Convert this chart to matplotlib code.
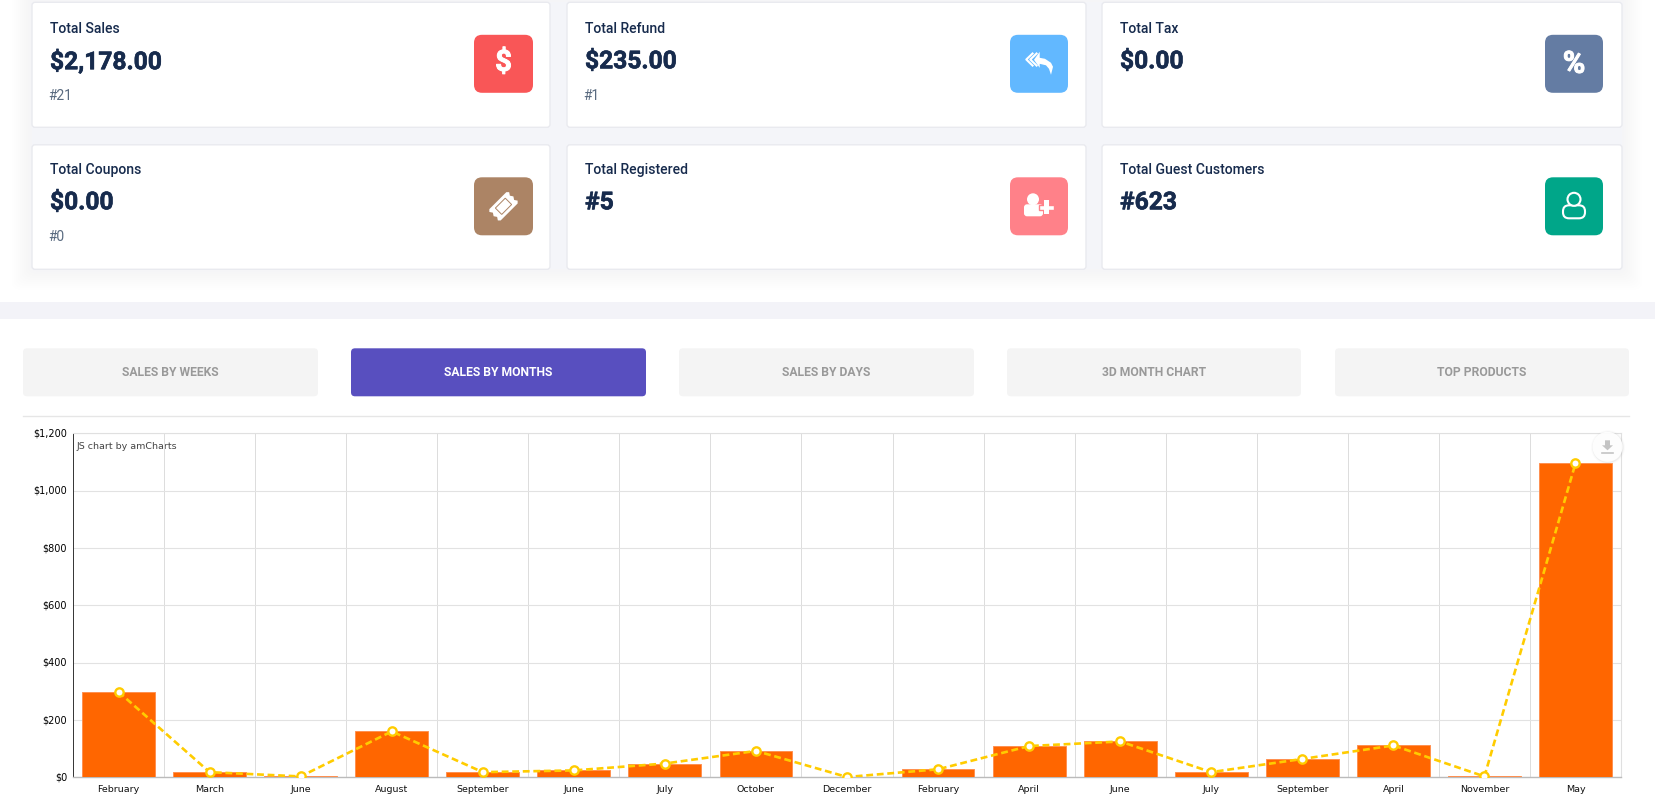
import numpy as np
import matplotlib
matplotlib.use("Agg")
import matplotlib.pyplot as plt
import matplotlib.patheffects as pe
from matplotlib.patches import FancyBboxPatch, Rectangle, Circle, Polygon
from matplotlib.transforms import ScaledTranslation

W, H = 1655, 812
SHIFT = 1.3

# chart data
months = ["February", "March", "June", "August", "September", "June", "July", "October", "December",
          "February", "April", "June", "July", "September", "April", "November", "May"]
bar_values = [298, 18, 3, 160, 18, 24, 48, 92, 1, 28, 109, 125, 18, 64, 111, 3, 1095]
line_values = [298, 18, 3, 160, 18, 24, 48, 92, 1, 28, 109, 125, 18, 64, 111, 3, 1095]
y_ticks = [0, 200, 400, 600, 800, 1000, 1200]
y_labels = ["$0", "$200", "$400", "$600", "$800", "$1,000", "$1,200"]

# dashboard cards
card_titles = ["Total Sales", "Total Refund", "Total Tax", "Total Coupons", "Total Registered", "Total Guest Customers"]
card_values = ["$2,178.00", "$235.00", "$0.00", "$0.00", "#5", "#623"]
card_subs = ["#21", "#1", "", "#0", "", ""]
card_colors = ["#f95657", "#62b8ff", "#647ca3", "#ac8465", "#ff8189", "#00a689"]
tab_names = ["SALES BY WEEKS", "SALES BY MONTHS", "SALES BY DAYS", "3D MONTH CHART", "TOP PRODUCTS"]

NAVY = "#172b4d"
plt.rcParams["font.family"] = ["Roboto", "DejaVu Sans"]

fig = plt.figure(figsize=(W / 100, H / 100), dpi=100, facecolor="white")

# whole page drawn in pixel coords
page = fig.add_axes([0, 0, 1, 1])
page.set_xlim(0, W)
page.set_ylim(H - SHIFT, -SHIFT)
page.axis("off")


def rbox(x0, y0, x1, y1, r, **kw):
    p = FancyBboxPatch((x0 + r, y0 + r), x1 - x0 - 2 * r, y1 - y0 - 2 * r,
                       boxstyle=f"round,pad={r},rounding_size={r}", **kw)
    page.add_patch(p)
    return p


# soft shadow behind the card block
for i in range(10):
    g = 20 - 2 * i
    rbox(32 - g, -30, 1622 + g, 269 + g, 8, fc="#f0f1f7", ec="none", alpha=0.06)
page.add_patch(Rectangle((32, 2), 1590, 267, fc="#f4f5f9", ec="none"))

# band between the cards and the tabs
page.add_patch(Rectangle((0, 302), W, 16.5, fc="#f3f3f8", ec="none"))

heavy = [pe.withStroke(linewidth=0.7, foreground="white")]
value_fx = [pe.withStroke(linewidth=0.45, foreground=NAVY)]


def icon_dollar(cx, cy):
    page.text(cx, cy - 1, "$", color="white", fontsize=21, fontweight="bold", ha="center", va="center",
              path_effects=heavy)


def icon_percent(cx, cy):
    page.text(cx, cy, "%", color="white", fontsize=22, fontweight="bold", ha="center", va="center",
              path_effects=heavy)


def icon_reply(cx, cy):
    for dx in (-12.7, -8.7):
        page.plot([cx + dx + 7, cx + dx, cx + dx + 7], [cy - 11, cy - 4.3, cy + 2.5], color="white", lw=1.5,
                  solid_capstyle="butt")
    head = [(cx - 5, cy - 4), (cx + 0.7, cy - 12), (cx + 0.7, cy - 6), (cx + 6, cy - 5), (cx + 12, cy - 1),
            (cx + 14, cy + 3), (cx + 12, cy + 11), (cx + 10, cy + 5), (cx + 7, cy + 1.5), (cx + 0.7, cy), (cx + 0.7, cy + 4)]
    page.add_patch(Polygon(head, fc="white", ec="none"))


def icon_ticket(cx, cy, color):
    t = np.radians(-45)
    rot = np.array([[np.cos(t), -np.sin(t)], [np.sin(t), np.cos(t)]])

    def tr(pts):
        return [tuple(rot @ np.array(p) + (cx, cy)) for p in pts]
    page.add_patch(Polygon(tr([(-14, -6), (-12, -8), (12, -8), (14, -6), (12, -3), (14, 0), (12, 3), (14, 6), (12, 8),
                               (-12, 8), (-14, 6), (-12, 3), (-14, 0), (-12, -3)]), fc="white", ec="none"))
    page.add_patch(Polygon(tr([(-7, -4.5), (7, -4.5), (7, 4.5), (-7, 4.5)]), fc="white", ec=color, lw=0.7))


def icon_user_plus(cx, cy, color):
    page.add_patch(Circle((cx - 6, cy - 7), 6, fc="white", ec="none"))
    rbox(cx - 15, cy - 2, cx + 4, cy + 10, 3, fc="white", ec="none")
    page.add_patch(Rectangle((cx + 5, cy - 6), 5, 14, fc="white", ec=color, lw=1))
    page.add_patch(Rectangle((cx, cy - 1.5), 15, 5, fc="white", ec=color, lw=1))
    page.add_patch(Rectangle((cx + 5, cy - 6), 5, 14, fc="white", ec="none"))


def icon_user(cx, cy):
    rbox(cx - 11, cy - 1, cx + 11, cy + 12, 6, fc="none", ec="white", lw=1.5)
    page.add_patch(Circle((cx, cy - 7), 6.5, fc="#00a689", ec="white", lw=1.5, zorder=5))


card_x = [(32, 550), (567, 1086), (1102, 1622)]
card_y = [(2, 127), (144.5, 269)]
text_top = [3, 144]
icon_top = [34.5, 177]
icon_x = [(474, 533), (1010, 1068), (1545, 1603)]
for i, title in enumerate(card_titles):
    x0, x1 = card_x[i % 3]
    y0, y1 = card_y[i // 3]
    ty = text_top[i // 3]
    rbox(x0, y0, x1, y1, 3, fc="white", ec="#e9eaef", lw=1)
    page.text(x0 + 18, ty + 25, title, color=NAVY, fontsize=10.1, fontweight="medium", va="center")
    page.text(x0 + 18, ty + 58, card_values[i], color=NAVY, fontsize=17.7, fontweight="bold", va="center",
              path_effects=value_fx)
    if card_subs[i]:
        page.text(x0 + 16.5, ty + 91.5, card_subs[i], color="#5a6b80", fontsize=10, fontweight="normal", va="center")
    ix0, ix1 = icon_x[i % 3]
    iy = icon_top[i // 3]
    rbox(ix0, iy, ix1, iy + 58, 8, fc=card_colors[i], ec="none")
    cx, cy = (ix0 + ix1) / 2, iy + 29
    if i == 0:
        icon_dollar(cx, cy)
    elif i == 1:
        icon_reply(cx, cy)
    elif i == 2:
        icon_percent(cx, cy)
    elif i == 3:
        icon_ticket(cx, cy, card_colors[i])
    elif i == 4:
        icon_user_plus(cx, cy, card_colors[i])
    else:
        icon_user(cx, cy)

# tabs
tab_x = [(23, 318), (351, 646), (679, 974), (1007, 1301), (1335, 1629)]
for i, name in enumerate(tab_names):
    x0, x1 = tab_x[i]
    active = i == 1
    rbox(x0, 348, x1, 396, 4, fc="#584fbf" if active else "#f4f4f4", ec="none")
    page.text((x0 + x1) / 2, 371, name, color="white" if active else "#999999", fontsize=8.7,
              fontweight="bold", ha="center", va="center")
page.plot([23, 1629], [416, 416], color="#e6e6e6", lw=1)

# the chart itself
ax = fig.add_axes([73 / W, 1 - (777 + SHIFT) / H, (1621 - 73) / W, (777 - 433) / H])
ax.patch.set_alpha(0)
x = np.arange(len(months))
ax.bar(x, bar_values, width=0.8, color="#ff6600", edgecolor="#ff9050", linewidth=0.7, zorder=3)
ax.plot(x, line_values, color="#ffcc00", lw=1.9, ls=(0, (2.6, 1.4)), zorder=4)
ax.plot(x, line_values, ls="none", marker="o", ms=6, mfc="white", mec="#ffcc00", mew=1.7, zorder=5)
ax.set_xlim(-0.5, len(months) - 0.5)
ax.set_ylim(0, 1200)
ax.set_yticks(y_ticks)
ax.set_yticklabels(y_labels, fontsize=7, family=["DejaVu Sans"], color="black")
ax.set_xticks(x)
ax.set_xticklabels(months, fontsize=6.8, family=["DejaVu Sans"], color="#111111")
ax.set_xticks(x[:-1] + 0.5, minor=True)
ax.tick_params(axis="both", which="both", length=0)
ax.tick_params(axis="x", pad=5)
ax.tick_params(axis="y", pad=4.3)
# y labels sit a little higher than matplotlib's centring
nudge = ScaledTranslation(0, 1.2 / 72, fig.dpi_scale_trans)
for lab in ax.get_yticklabels():
    lab.set_transform(lab.get_transform() + nudge)
ax.grid(axis="y", which="major", color="#e2e2e2", lw=0.8, zorder=0)
ax.grid(axis="x", which="minor", color="#dcdcdc", lw=0.7, zorder=0)
ax.grid(axis="x", which="major", visible=False)
for side in ("top", "right"):
    ax.spines[side].set_color("#e0e0e0")
    ax.spines[side].set_linewidth(0.8)
ax.spines["left"].set_color("#333333")
ax.spines["bottom"].set_color("#bbbbbb")
ax.spines["left"].set_linewidth(0.7)
ax.spines["bottom"].set_linewidth(1)

page.text(77, 445, "JS chart by amCharts", color="#444444", fontsize=6.8, family=["DejaVu Sans"], va="center", zorder=6)

# export button on top of the chart
over = fig.add_axes([0, 0, 1, 1])
over.set_xlim(0, W)
over.set_ylim(H - SHIFT, -SHIFT)
over.axis("off")
over.patch.set_alpha(0)
for r, a in ((17, 0.03), (16, 0.05), (15.5, 0.07)):
    over.add_patch(Circle((1608, 447), r, fc="#888888", ec="none", alpha=a))
over.add_patch(Circle((1607.5, 446.5), 15, fc="white", ec="none", alpha=0.92))
over.add_patch(Polygon([(1605, 440), (1610, 440), (1610, 445), (1613, 445), (1607.5, 450), (1602, 445), (1605, 445)],
                       fc="#c4c4c4", ec="none"))
over.plot([1602, 1613], [452.5, 452.5], color="#c4c4c4", lw=1.2)

fig.savefig("out.png", dpi=100)
